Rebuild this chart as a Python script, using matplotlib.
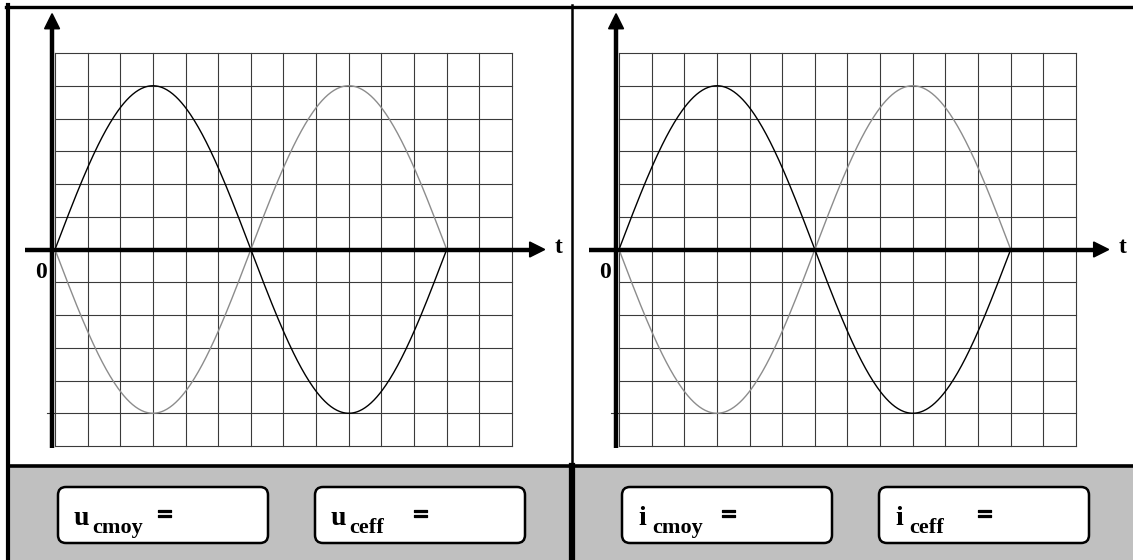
import numpy as np
import matplotlib
matplotlib.use('Agg')
from matplotlib import pyplot as plt
from matplotlib import patheffects as pe
from matplotlib.patches import FancyBboxPatch, Rectangle, Polygon

W, H = 1133, 560

# chart content
quantities = ['u', 'i']
box_subscripts = ['cmoy', 'ceff']
grid_cols = 14
grid_rows = 12          # 6 above and 6 below the time axis
amplitude = 5           # grid cells
period = 12             # grid cells
signal_colors = ['black', '#8c8c8c']
signal_signs = [1, -1]

plt.rcParams['font.family'] = ['Liberation Serif', 'DejaVu Serif']

fig = plt.figure(figsize=(W / 100, H / 100), dpi=100)
bg = fig.add_axes([0, 0, 1, 1])
bg.set_xlim(0, W)
bg.set_ylim(H, 0)
bg.axis('off')

# frame and grey strip
bg.add_patch(Rectangle((8, 465), W - 8, H - 465, color='#c0c0c0', zorder=0))
bg.plot([6, W], [6.5, 6.5], color='black', lw=2.4)
bg.plot([8, 8], [5, H], color='black', lw=3)
bg.plot([8, W], [465.5, 465.5], color='black', lw=2.6)
bg.plot([572, 572], [5, 466], color='black', lw=1.8)
bg.plot([572, 572], [466, H], color='black', lw=4.5)

sx = 457 / grid_cols
sy = (249.5 - 53) / (grid_rows / 2)
t = np.linspace(0, period, 400)
half = grid_rows // 2
thick = [pe.withStroke(linewidth=0.9, foreground='black')]

for k, q in enumerate(quantities):
    off = 564 * k
    x0, x1, y0, y1 = 10 + off, 568 + off, 10, 464
    ax = fig.add_axes([x0 / W, 1 - y1 / H, (x1 - x0) / W, (y1 - y0) / H])
    gx = 55 + off
    ax.set_xlim((x0 - gx) / sx, (x1 - gx) / sx)
    ax.set_ylim((249.5 - y1) / sy, (249.5 - y0) / sy)
    ax.axis('off')
    ax.patch.set_alpha(0)

    for c in range(grid_cols + 1):
        ax.plot([c, c], [-half, half], color='#3a3a3a', lw=0.8, zorder=1)
    for r in range(-half, half + 1):
        xs = -0.25 if r == -amplitude else 0
        ax.plot([xs, grid_cols], [r, r], color='#3a3a3a', lw=0.8, zorder=1)

    for sign, col in zip(signal_signs, signal_colors):
        ax.plot(t, sign * amplitude * np.sin(2 * np.pi * t / period),
                color=col, lw=1.0, zorder=2)

    # axes with arrows
    hl, hw = 15 / sx, 7.5 / sy
    ax.plot([-0.09, -0.09], [-6.05, 7.2 - hl * 0.9], color='black', lw=3.2,
            solid_capstyle='butt', zorder=3)
    ax.add_patch(Polygon([[-0.09, 7.2], [-0.09 - hw, 7.2 - hl],
                          [-0.09 + hw, 7.2 - hl]], color='black', zorder=3))
    ax.plot([-0.92, 15.0 - hl * 0.9], [0, 0], color='black', lw=3.2,
            solid_capstyle='butt', zorder=3)
    ax.add_patch(Polygon([[15.0, 0], [15.0 - hl, hw], [15.0 - hl, -hw]],
                         color='black', zorder=3))
    ax.text(15.3, 0.05, 't', fontsize=17, weight='bold', ha='left',
            va='center', zorder=4)
    ax.text(-0.42, -0.7, '0', fontsize=17, weight='bold', ha='center',
            va='center', zorder=4)

    # answer boxes
    for j, sub in enumerate(box_subscripts):
        bx = 58 + off + 257 * j
        bg.add_patch(FancyBboxPatch((bx + 4, 491), 202, 48,
                                    boxstyle='round,pad=4,rounding_size=8',
                                    fc='white', ec='black', lw=1.8, zorder=2))
        bg.text(bx + 16, 525, q, fontsize=20, weight='bold', va='baseline',
                ha='left', zorder=3)
        bg.text(bx + 34 - (4 if q == 'i' else 0), 533, sub, fontsize=16,
                weight='bold', va='baseline', ha='left', zorder=3)
        eqx = bx + (99 if j == 0 else 98)
        bg.text(eqx, 516, '=', fontsize=19, weight='bold', va='center',
                ha='left', zorder=3, path_effects=thick)

fig.savefig('out.png', dpi=100)
